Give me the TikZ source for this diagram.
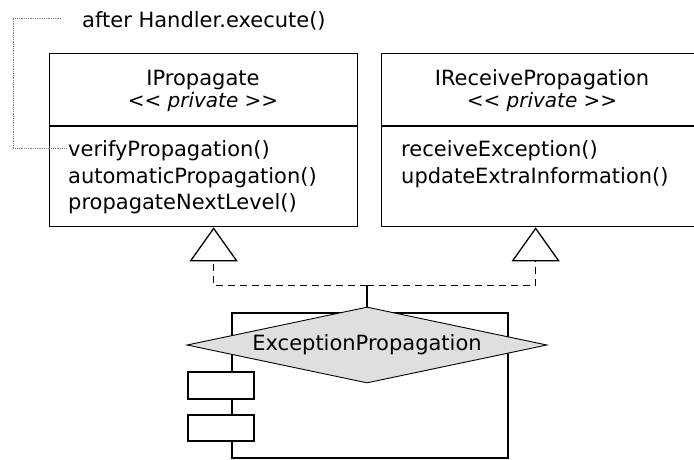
\documentclass[tikz,border=0pt]{standalone}
\usepackage{fontspec}
\setmainfont{DejaVu Sans}
\usetikzlibrary{positioning,shapes.geometric,arrows.meta}

\newcommand{\stereo}[1]{<\kern0pt< \textit{#1} >\kern0pt>}

\tikzset{
	every node/.style={font=\fontsize{21}{25}\selectfont},
	classbox/.style={draw, line width=1.3pt, anchor=north west, inner sep=0pt},
	title/.style={anchor=base, inner sep=0pt},
	method/.style={anchor=base west, inner sep=0pt},
	port/.style={draw, fill=white, line width=1.3pt, inner sep=0pt, minimum width=66pt},
	realize/.style={line width=1.3pt, dash pattern=on 7pt off 5pt,
		-{Triangle[open, length=34pt, width=48pt, line width=1.3pt]}},
	notelink/.style={densely dotted, gray, line width=0.8pt}
}

\begin{document}
\begin{tikzpicture}[x=1pt, y=-1pt]
	\useasboundingbox (0,0) rectangle (694,460);
	
	% interfaces
	\node[classbox, minimum width=308pt, minimum height=173pt] (prop) at (49,53) {};
	\node[classbox, minimum width=322pt, minimum height=173pt] (recv) at (381,53) {};
	\draw[line width=1.3pt] (prop.west |- 0,126) -- (prop.east |- 0,126);
	\draw[line width=1.3pt] (recv.west |- 0,126) -- (recv.east |- 0,126);
	
	\node[title] (propname) at (203,86) {IPropagate};
	\node[title, below=21pt of propname.base, anchor=base, font=\fontsize{20}{24}\selectfont] (propstereo) {\stereo{private}};
	\node[title] (recvname) at (542,86) {IReceivePropagation};
	\node[title, below=21pt of recvname.base, anchor=base, font=\fontsize{20}{24}\selectfont] (recvstereo) {\stereo{private}};
	
	\node[method] (verify) at (68,157) {verifyPropagation()};
	\node[method, below=26pt of verify.base west, anchor=base west] (auto) {automaticPropagation()};
	\node[method, below=26pt of auto.base west, anchor=base west] (next) {propagateNextLevel()};
	
	\node[method] (receive) at (401,157) {receiveException()};
	\node[method, below=26pt of receive.base west, anchor=base west] (extra) {updateExtraInformation()};
	
	% note
	\node[method] (note) at (82,28) {after Handler.execute()};
	\draw[notelink] ([xshift=-21pt, yshift=3pt]note.west) -- ++(-48,0) |- ([xshift=-1pt, yshift=3pt]verify.west);
	
	% component
	\node[draw, line width=1.3pt, inner sep=0pt, minimum width=276pt, minimum height=145pt] (comp) at (370,385.5) {};
	\node[port, minimum height=27pt] (port1) at (221,385.5) {};
	\node[port, minimum height=26pt] (port2) at (221,428) {};
	\node[diamond, draw, fill=gray!25, line width=0.9pt, aspect=4.7, inner sep=0pt,
		minimum width=360pt, minimum height=76pt] (diam) at (367,345) {ExceptionPropagation};
	
	% realizations
	\coordinate (junc) at ([yshift=21pt]diam.north);
	\draw[line width=1.3pt] (diam.north) -- (junc);
	\draw[realize] (junc) -| ([xshift=10pt]prop.south);
	\draw[realize] (junc) -| ([xshift=-7pt]recv.south);
\end{tikzpicture}
\end{document}
